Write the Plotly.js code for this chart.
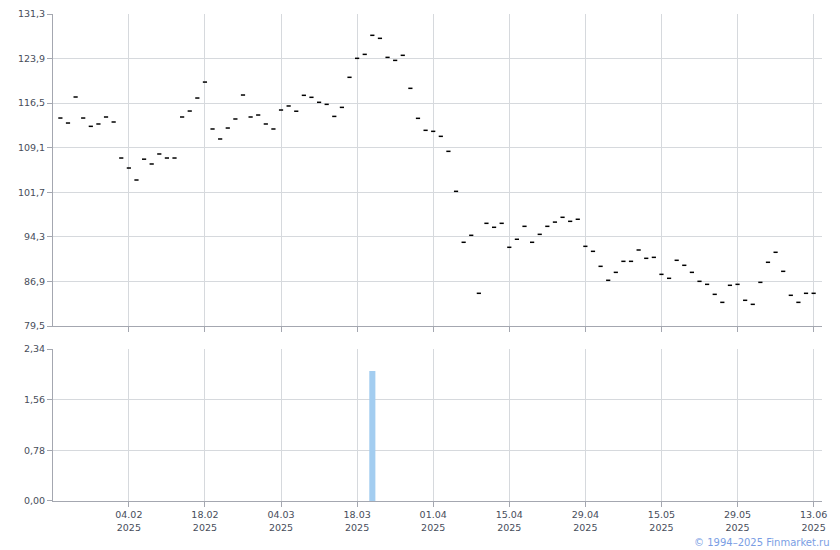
<!DOCTYPE html>
<html>
<head>
<meta charset="utf-8">
<script src="https://cdn.plot.ly/plotly-3.0.1.min.js"></script>
<style>
html,body{margin:0;padding:0;background:#fff;}
#chart{width:840px;height:550px;}
</style>
</head>
<body>
<div id="chart"></div>
<script>
// Trading dates (category axis)
const dates = [
 "2025-01-22","2025-01-23","2025-01-24","2025-01-27","2025-01-28","2025-01-29","2025-01-30","2025-01-31",
 "2025-02-03","2025-02-04","2025-02-05","2025-02-06","2025-02-07","2025-02-10","2025-02-11","2025-02-12",
 "2025-02-13","2025-02-14","2025-02-17","2025-02-18","2025-02-19","2025-02-20","2025-02-21","2025-02-24",
 "2025-02-25","2025-02-26","2025-02-27","2025-02-28",
 "2025-03-03","2025-03-04","2025-03-05","2025-03-06","2025-03-07","2025-03-10","2025-03-11","2025-03-12",
 "2025-03-13","2025-03-14","2025-03-17","2025-03-18","2025-03-19","2025-03-20","2025-03-21","2025-03-24",
 "2025-03-25","2025-03-26","2025-03-27","2025-03-28","2025-03-31",
 "2025-04-01","2025-04-02","2025-04-03","2025-04-04","2025-04-07","2025-04-08","2025-04-09","2025-04-10",
 "2025-04-11","2025-04-14","2025-04-15","2025-04-16","2025-04-17","2025-04-18","2025-04-21","2025-04-22",
 "2025-04-23","2025-04-24","2025-04-25","2025-04-28","2025-04-29","2025-04-30",
 "2025-05-02","2025-05-05","2025-05-06","2025-05-07","2025-05-08","2025-05-12","2025-05-13","2025-05-14",
 "2025-05-15","2025-05-16","2025-05-19","2025-05-20","2025-05-21","2025-05-22","2025-05-23","2025-05-26",
 "2025-05-27","2025-05-28","2025-05-29","2025-05-30",
 "2025-06-02","2025-06-03","2025-06-04","2025-06-05","2025-06-06","2025-06-09","2025-06-10","2025-06-11",
 "2025-06-13"
];

// Price values
const prices = [
 114.03,113.20,117.52,114.03,112.65,113.04,114.20,113.37,107.39,105.73,
 103.74,107.20,106.40,108.06,107.39,107.39,114.20,115.19,117.35,120.00,
 112.21,110.55,112.37,113.87,117.85,114.20,114.53,113.04,112.21,115.36,
 116.03,115.16,117.80,117.47,116.64,116.30,114.30,115.80,120.79,123.94,
 124.60,127.76,127.26,124.10,123.60,124.44,118.96,113.98,111.99,111.82,
 110.99,108.50,101.86,93.40,94.56,84.93,96.55,95.89,96.55,92.57,
 93.90,96.05,93.40,94.72,96.05,96.75,97.55,96.88,97.22,92.73,
 91.90,89.41,87.09,88.41,90.24,90.24,92.12,90.74,90.90,88.08,
 87.42,90.41,89.58,88.41,86.92,86.42,84.76,83.43,86.26,86.42,
 83.77,83.10,86.75,90.08,91.74,88.58,84.60,83.43,84.93,84.93
];

// Volume bar (single trading volume)
const volDates = ["2025-03-20"];
const volValues = [2.0];

// X tick labels
const tickDates = ["2025-02-04","2025-02-18","2025-03-04","2025-03-18","2025-04-01",
                   "2025-04-15","2025-04-29","2025-05-15","2025-05-29","2025-06-13"];
const tickLabels = ["04.02<br>2025","18.02<br>2025","04.03<br>2025","18.03<br>2025","01.04<br>2025",
                    "15.04<br>2025","29.04<br>2025","15.05<br>2025","29.05<br>2025","13.06<br>2025"];

const gridC = "#d6d9dd";
const axisC = "#a4a7b0";
const textC = "#474d5a";
const fontF = "DejaVu Sans, Verdana, sans-serif";

const traces = [
 {
  type: "scatter", mode: "markers", x: dates, y: prices,
  xaxis: "x", yaxis: "y",
  marker: {symbol: "line-ew", size: 3, color: "#000", line: {color: "#000", width: 1.5}},
  hoverinfo: "skip", showlegend: false
 },
 {
  type: "bar", x: volDates, y: volValues,
  xaxis: "x2", yaxis: "y2", width: 0.8,
  marker: {color: "#a3cdf0", line: {width: 0}},
  hoverinfo: "skip", showlegend: false
 }
];

const xCommon = {
  type: "category",
  categoryorder: "array",
  categoryarray: dates,
  range: [-0.97, 100.1],
  showgrid: true, gridcolor: gridC, gridwidth: 1,
  showline: true, linecolor: axisC, linewidth: 1,
  ticks: "outside", ticklen: 5, tickcolor: axisC,
  tickvals: tickDates, ticktext: tickLabels,
  tickfont: {family: fontF, size: 9.5, color: textC},
  zeroline: false, fixedrange: true
};

const layout = {
  width: 840, height: 550,
  margin: {l: 53, r: 18, t: 14, b: 49, pad: 0},
  paper_bgcolor: "#fff", plot_bgcolor: "#fff",
  separators: ", ",
  showlegend: false,
  xaxis: Object.assign({}, xCommon, {anchor: "y", showticklabels: false}),
  xaxis2: Object.assign({}, xCommon, {anchor: "y2", matches: "x"}),
  yaxis: {
    domain: [0.3593, 1], anchor: "x",
    range: [79.5, 131.3], tick0: 79.5, dtick: 7.4, tickformat: ".1f",
    showgrid: true, gridcolor: gridC, showline: true, linecolor: axisC,
    ticks: "outside", ticklen: 5, tickcolor: axisC,
    tickfont: {family: fontF, size: 9.5, color: textC},
    zeroline: false, fixedrange: true
  },
  yaxis2: {
    domain: [0, 0.3121], anchor: "x2",
    range: [0, 2.34], tick0: 0, dtick: 0.78, tickformat: ".2f",
    showgrid: true, gridcolor: gridC, showline: true, linecolor: axisC,
    ticks: "outside", ticklen: 5, tickcolor: axisC,
    tickfont: {family: fontF, size: 9.5, color: textC},
    zeroline: false, fixedrange: true
  },
  annotations: [{
    xref: "paper", yref: "paper", x: 1.013, y: -0.086,
    xanchor: "right", yanchor: "middle", showarrow: false,
    text: "© 1994–2025 Finmarket.ru",
    font: {family: fontF, size: 10, color: "#7a9ee4"}
  }]
};

Plotly.newPlot("chart", traces, layout, {staticPlot: true, displayModeBar: false});
</script>
</body>
</html>
